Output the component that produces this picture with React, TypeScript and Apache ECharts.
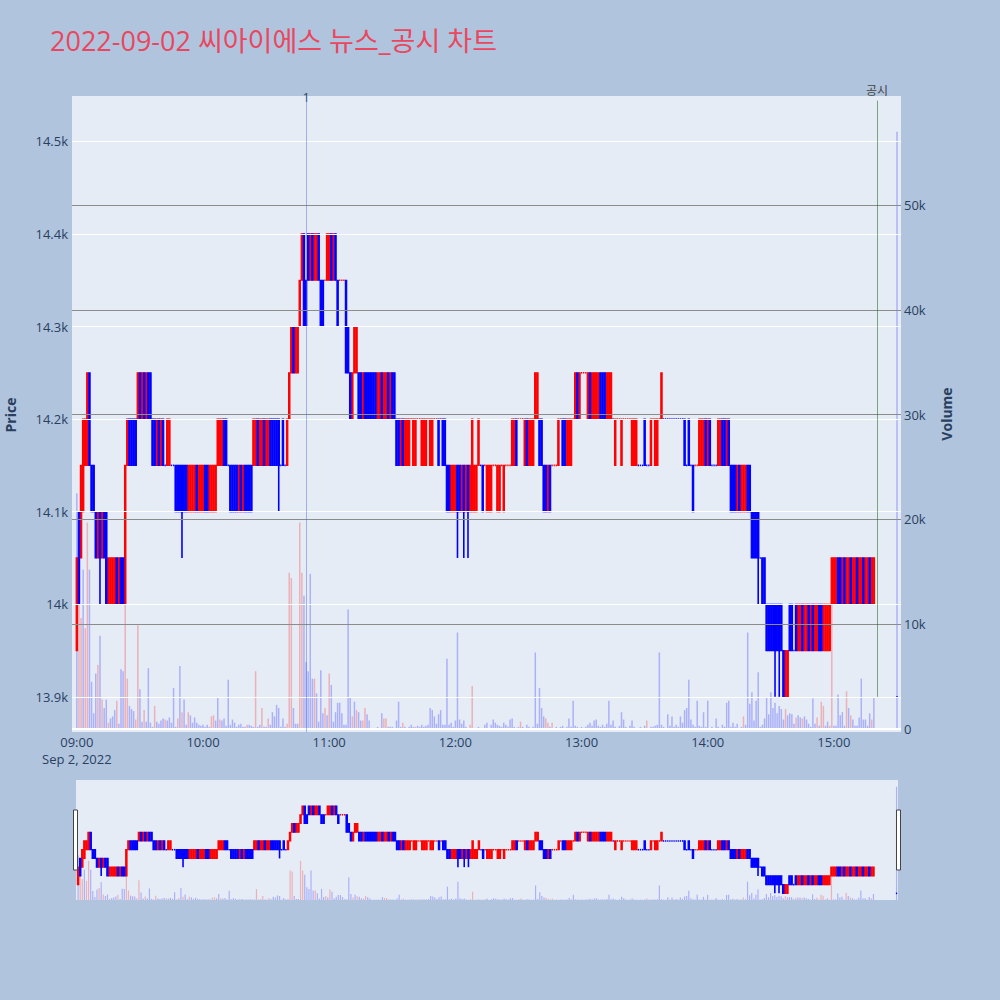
import React, { useEffect, useRef } from 'react';
import * as echarts from 'echarts';

const TITLE = '2022-09-02 씨아이에스 뉴스_공시 차트';
const DATE_LABEL = 'Sep 2, 2022';
const CONTINUOUS_START = '09:00';
const CONTINUOUS_END = '15:19';
const CLOSING_AUCTION = '15:30';
const TIME_TICKS = ['09:00', '10:00', '11:00', '12:00', '13:00', '14:00', '15:00'];
const PRICE_TICKS = [13900, 14000, 14100, 14200, 14300, 14400, 14500];
const VOLUME_TICKS_K = [0, 10, 20, 30, 40, 50];
const EVENT_LABELS = ['1', '공시'];
const EVENT_TIMES = ['10:49', '15:20:30'];
const DISCLOSURE_SPAN = [13900, 14544];

// [open, close, (low), (high)] per minute, 09:00 .. 15:19, then 15:30
const OHLC: number[][] = [
  [13950,14050],[14100,14000],[14050,14150],[14100,14200],[14150,14200],[14150,14250],[14250,14150],[14150,14100],[14150,14100],[14100,14050],
  [14050,14100],[14100,14050,14000,14100],[14050,14100],[14100,14050],[14100,14000],[14000,14050],[14000,14050],[14000,14050],[14000,14050],[14050,14000],
  [14000,14050],[14050,14000],[14050,14000],[14000,14150],[14150,14200],[14200,14150],[14200,14150],[14200,14150],[14200,14150],[14200,14250],
  [14250,14200],[14200,14250],[14250,14200],[14200,14250],[14250,14200],[14250,14200],[14200,14150],[14200,14150],[14150,14200],[14200,14150],
  [14150,14200],[14200,14150],[14150,14150],[14150,14200],[14150,14200],[14150,14150],[14150,14150],[14150,14100],[14150,14100],[14150,14100],
  [14150,14100,14050,14150],[14150,14100],[14150,14100],[14100,14150],[14100,14150],[14100,14150],[14100,14150],[14150,14100],[14100,14150],[14100,14150],
  [14100,14150],[14150,14100],[14150,14100],[14100,14150],[14100,14150],[14100,14150],[14100,14150],[14150,14200],[14150,14200],[14150,14200],
  [14200,14150],[14200,14150],[14150,14150],[14150,14100],[14150,14100],[14150,14100],[14150,14100],[14100,14150],[14150,14100],[14100,14150],
  [14150,14100],[14150,14100],[14150,14100],[14150,14100],[14150,14200],[14150,14200],[14200,14150],[14150,14200],[14150,14200],[14200,14150],
  [14150,14200],[14150,14200],[14200,14150],[14200,14150],[14200,14150],[14200,14150],[14200,14150,14100,14200],[14150,14150],[14200,14150],[14150,14150],
  [14150,14200],[14200,14250],[14250,14300],[14300,14250],[14250,14300],[14250,14300],[14300,14350],[14350,14400],[14400,14300],[14350,14300],
  [14400,14350],[14350,14400],[14400,14350],[14350,14400],[14350,14400],[14400,14350],[14350,14300],[14350,14300],[14350,14350],[14350,14400],
  [14350,14400],[14400,14350],[14350,14400],[14400,14350],[14350,14300],[14350,14350],[14350,14350],[14350,14350],[14350,14250],[14300,14250],
  [14250,14200],[14200,14250],[14250,14300],[14250,14300],[14250,14200],[14250,14200],[14200,14250],[14250,14200],[14250,14200],[14250,14200],
  [14250,14200],[14250,14200],[14250,14200],[14200,14250],[14200,14250],[14250,14200],[14200,14250],[14200,14250],[14250,14200],[14200,14250],
  [14250,14200],[14250,14200],[14200,14150],[14200,14150],[14150,14200],[14200,14150],[14150,14200],[14150,14200],[14150,14200],[14200,14200],
  [14150,14200],[14150,14200],[14200,14200],[14200,14200],[14150,14200],[14150,14200],[14150,14200],[14200,14200],[14150,14200],[14150,14200],
  [14200,14200],[14200,14200],[14200,14150],[14200,14200],[14200,14150],[14200,14150],[14150,14100],[14150,14100],[14100,14150],[14100,14150],
  [14100,14150],[14150,14100,14050,14150],[14150,14100],[14100,14150],[14150,14100,14050,14150],[14100,14150],[14150,14100,14050,14150],[14100,14150],[14100,14200],[14100,14150],
  [14100,14150],[14150,14200],[14150,14150],[14150,14100],[14150,14150],[14100,14150],[14100,14150],[14100,14150],[14150,14150],[14150,14150],
  [14100,14150],[14100,14150],[14150,14150],[14100,14150],[14150,14150],[14150,14150],[14150,14150],[14150,14200],[14150,14200],[14200,14150],
  [14200,14200],[14200,14200],[14200,14200],[14150,14200],[14200,14150],[14150,14200],[14150,14200],[14150,14200],[14200,14250],[14200,14250],
  [14200,14150],[14200,14150],[14150,14100],[14150,14100],[14100,14150],[14150,14100],[14150,14150],[14150,14150],[14150,14150],[14150,14200],
  [14200,14200],[14200,14150],[14200,14150],[14150,14200],[14150,14200],[14150,14200],[14200,14200],[14200,14250],[14250,14200],[14200,14250],
  [14250,14250],[14250,14250],[14250,14250],[14200,14250],[14250,14200],[14200,14250],[14200,14250],[14200,14250],[14200,14250],[14250,14200],
  [14250,14200],[14250,14200],[14200,14250],[14200,14250],[14200,14250],[14200,14200],[14150,14200],[14200,14200],[14200,14200],[14150,14200],
  [14200,14200],[14200,14200],[14200,14200],[14200,14200],[14150,14200],[14150,14200],[14150,14200],[14150,14150],[14150,14150],[14150,14150],
  [14200,14150],[14150,14150],[14150,14150],[14150,14200],[14200,14200],[14150,14200],[14150,14200],[14200,14200],[14200,14250],[14200,14200],
  [14200,14200],[14200,14200],[14200,14200],[14200,14200],[14200,14200],[14200,14200],[14200,14200],[14200,14200],[14200,14200],[14200,14150],
  [14150,14150],[14200,14150],[14150,14150],[14150,14100],[14150,14150],[14150,14150],[14150,14200],[14150,14200],[14150,14200],[14200,14150],
  [14150,14200],[14200,14150],[14150,14150],[14150,14150],[14150,14150],[14150,14200],[14150,14200],[14200,14150],[14200,14150],[14150,14200],
  [14200,14150],[14150,14100],[14150,14100],[14150,14100],[14100,14150],[14150,14100],[14100,14150],[14100,14150],[14100,14150],[14150,14100],
  [14150,14100],[14100,14050],[14100,14050],[14100,14050],[14100,14050,14000,14100],[14050,14050],[14050,14000],[14050,14000],[14000,13950],[14000,13950],
  [14000,13950],[14000,13950],[14000,13950,13900,14000],[14000,13950],[14000,13950,13900,14000],[14000,13950],[13950,13900],[13900,13950],[13900,13950],[14000,13950],
  [14000,13950],[13950,13950],[14000,13950],[13950,14000],[13950,14000],[14000,13950],[13950,14000],[13950,14000],[14000,13950],[13950,14000],
  [14000,13950],[13950,14000],[13950,14000],[14000,13950],[14000,13950],[13950,14000],[13950,14000],[13950,14000],[13950,14000],[14000,14050],
  [14000,14050],[14000,14050],[14050,14000],[14050,14000],[14000,14050],[14050,14000],[14000,14050],[14000,14050],[14050,14000],[14000,14050],
  [14000,14050],[14050,14000],[14000,14050],[14000,14050],[14050,14000],[14000,14050],[14000,14050],[14050,14000],[14000,14050],[14000,14050],
  [13900,13900],
];

// volume per minute, in thousands of shares
const VOLUME_K: number[] = [
  22.5,14.6,10.6,15.2,9.6,19.7,15.2,4.5,1.5,5.3,
  6.1,8.9,2.8,2,2.8,0.6,1,1.2,1.8,2.7,
  0.5,5.7,5.5,12.3,4.8,2.2,1.9,1.7,0.9,9.9,
  3.8,0.7,1.8,0.7,5.8,0.6,0.2,2.2,0.7,0.5,
  0.8,1,0.9,0.8,1.1,0.6,3.9,0.2,1,6,
  1.6,2.8,0.4,1.6,1.3,0.6,1.1,0.6,0.4,0.3,
  0.4,0.2,0.4,0.2,1.2,1.3,0.8,3,0.9,0.8,
  1,0.3,4.7,0.4,0.9,0.6,0.2,0.4,0.5,0.2,
  0.2,0.4,0.4,0.3,0.2,5.5,0.2,0.4,2,0.2,
  0.2,1,0.4,1.6,1.2,2.3,2,0.2,1,0.2,
  0.5,14.9,14.4,2,0.5,0.5,19.7,14.9,12.7,6.4,
  5.5,14.8,4.8,4.8,3.4,0.7,5.6,1.5,2,1.3,
  5.3,4.2,0.7,1.6,2.5,2.5,1.5,0.4,0.4,11.4,
  3,1.2,2.6,1.8,1.6,0.8,0.8,2,1.4,0.8,
  0.1,0.1,0.1,0.2,0.1,1.5,1,1,0.2,0.2,
  0.2,0.1,0.8,2.6,0.2,0.6,0.2,0.1,0.2,0.4,
  0.2,0.2,0.3,0.2,0.4,0.2,0.3,0.4,2,1.8,
  1.2,0.5,1.4,1.8,0.4,0.4,6.7,0.4,0.6,0.2,
  0.8,9.2,0.9,0.5,0.8,0.2,0.1,0.4,4.1,0.1,
  0.1,0.2,0.1,0.1,0.4,0.6,0.1,0.4,0.9,0.6,
  0.4,0.3,0.2,0.6,0.4,0.2,0.9,1,0.2,0.1,
  0.2,0.7,0.2,0.1,0.4,0.2,0.1,0.2,7.3,0.5,
  3.9,2,1.2,1,0.6,0.2,0.6,0.1,0.2,0.1,
  0.2,0.3,0.1,0.2,1,0.2,2.7,0.3,0.2,0.1,
  0.2,0.1,0.2,0.4,0.6,0.3,0.8,0.9,0.3,0.2,
  0.4,0.2,0.5,2.7,0.4,0.8,0.2,0.1,0.3,1.6,
  0.9,0.2,0.1,0.3,0.8,0.2,0.1,0.1,0.2,0.1,
  0.3,0.8,0.1,0.2,0.2,0.3,0.4,7.3,0.4,0.2,
  0.1,1.4,0.3,1.2,0.2,0.4,0.2,1.2,0.6,1.8,
  2,4.7,0.9,0.4,0.2,2.7,0.3,0.2,1.6,0.2,
  2.7,0.1,0.2,0.1,1,0.2,0.1,0.4,0.2,2.5,
  2.7,0.2,0.6,0.2,0.5,0.1,0.2,1.2,0.4,9.2,
  2.4,3.5,0.8,2.7,5.4,0.2,0.4,1,3,1.4,
  3.5,2,2.5,1.5,2.2,1.9,0.9,1.9,1.3,1.5,
  1.4,0.5,1.1,1.3,1.1,1,1.2,0.9,0.5,0.2,
  2.9,0.5,1.1,0.3,2.6,2.2,0.3,0.7,0.3,11.9,
  0.3,0.3,3.3,1.3,1.6,0.3,3.6,2,1.3,0.9,
  0.3,0.3,1.1,4.8,0.9,0.9,0.3,1.5,0.9,3,
  57,
];

// rows whose volume bar is drawn in the "up" colour
const VOLUME_UP_ROWS = [1,2,4,5,10,12,15,19,23,24,28,29,32,37,42,48,50,53,64,65,68,81,85,88,91,100,101,102,106,107,113,118,120,131,133,136,137,144,146,147,155,161,187,188,192,193,211,223,224,226,271,317,337,342,345,352,354,355,358,359,366,368,378];

const PAPER = '#b0c4de';
const PLOT = '#e5ecf6';
const UP = '#ff0000';
const DOWN = '#0000ff';
const VOL_UP_C = 'rgba(255,0,0,0.25)';
const VOL_DOWN_C = 'rgba(0,0,255,0.25)';
const FONT_C = '#2a3f5f';
const FONT = '"Open Sans", verdana, arial, sans-serif';
const PRICE_RANGE = [13862, 14549];
const VOL_RANGE = [-0.29, 60.4];
const X_RANGE = [-2.3, 391.9];
const NAV_X_RANGE = [-1, 390.7];

const toMinutes = (t: string) => {
  const [h, m, s = 0] = t.split(':').map(Number);
  return (h - 9) * 60 + m + s / 60;
};
const fmtTime = (min: number) => {
  const h = 9 + Math.floor(min / 60);
  const m = Math.round(min % 60);
  return String(h).padStart(2, '0') + ':' + String(m).padStart(2, '0');
};

const TIMES: string[] = (() => {
  const out: string[] = [];
  for (let m = toMinutes(CONTINUOUS_START); m <= toMinutes(CONTINUOUS_END); m++) out.push(fmtTime(m));
  out.push(CLOSING_AUCTION);
  return out;
})();

function candleSeries(data: number[][], color: string, xi: number, yi: number, bodyW: number) {
  return {
    type: 'custom',
    xAxisIndex: xi,
    yAxisIndex: yi,
    data,
    z: 3,
    silent: true,
    clip: true,
    encode: { x: 0, y: [1, 2, 3, 4] },
    renderItem: (params: any, api: any) => {
      const x = api.value(0);
      const o = api.value(1);
      const c = api.value(2);
      const l = api.value(3);
      const h = api.value(4);
      const pO = api.coord([x, o]);
      const pC = api.coord([x, c]);
      const pL = api.coord([x, l]);
      const pH = api.coord([x, h]);
      const children: any[] = [];
      if (l < Math.min(o, c) || h > Math.max(o, c)) {
        children.push({
          type: 'line',
          shape: { x1: pL[0], y1: pL[1], x2: pH[0], y2: pH[1] },
          style: { stroke: color, lineWidth: 1.6 },
        });
      }
      if (o !== c) {
        const top = Math.min(pO[1], pC[1]);
        children.push({
          type: 'rect',
          shape: { x: pO[0] - bodyW / 2, y: top, width: bodyW, height: Math.abs(pO[1] - pC[1]) },
          style: { fill: color, stroke: color, lineWidth: 1.2 },
        });
      } else {
        children.push({
          type: 'line',
          shape: { x1: pO[0] - 0.65, y1: pO[1], x2: pO[0] + 0.65, y2: pO[1] },
          style: { stroke: color, lineWidth: 1.6 },
        });
      }
      return { type: 'group', children };
    },
  };
}

export default function App() {
  const ref = useRef<HTMLDivElement>(null);
  useEffect(() => {
    if (!ref.current) return;
    const chart = echarts.init(ref.current, undefined, { renderer: 'svg' });
    const X = TIMES.map(toMinutes);
    let prevClose: number | null = null;
    let prevUp = false;
    const upRows: number[][] = [];
    const downRows: number[][] = [];
    OHLC.forEach((row, i) => {
      const [o, c] = row;
      const lo = row[2] ?? Math.min(o, c);
      const hi = row[3] ?? Math.max(o, c);
      let up: boolean;
      if (c > o) up = true;
      else if (c < o) up = false;
      else if (prevClose === null) up = false;
      else if (c > prevClose) up = true;
      else if (c < prevClose) up = false;
      else up = prevUp;
      prevClose = c;
      prevUp = up;
      (up ? upRows : downRows).push([X[i], o, c, lo, hi]);
    });
    const upSet = new Set(VOLUME_UP_ROWS);
    const vols = VOLUME_K.map((v, i) => ({
      value: [X[i], v],
      itemStyle: { color: upSet.has(i) ? VOL_UP_C : VOL_DOWN_C },
    }));
    const evX = EVENT_TIMES.map(toMinutes);

    const option: any = {
      animation: false,
      backgroundColor: PAPER,
      textStyle: { fontFamily: FONT },
      grid: [
        { left: 72, top: 96, width: 829, height: 636, show: true, backgroundColor: PLOT, borderWidth: 0 },
        { left: 76, top: 780, width: 822, height: 120, show: true, backgroundColor: PLOT, borderWidth: 0 },
      ],
      xAxis: [
        {
          type: 'value', gridIndex: 0, min: X_RANGE[0], max: X_RANGE[1],
          axisLine: { show: false }, axisTick: { show: false }, splitLine: { show: false },
          axisLabel: {
            customValues: TIME_TICKS.map(toMinutes),
            formatter: (v: number) => fmtTime(v),
            color: FONT_C, fontSize: 13, margin: 3, fontFamily: FONT,
          },
        },
        { type: 'value', gridIndex: 1, min: NAV_X_RANGE[0], max: NAV_X_RANGE[1], show: false, splitLine: { show: false } },
      ],
      yAxis: [
        {
          type: 'value', gridIndex: 0, position: 'left', min: PRICE_RANGE[0], max: PRICE_RANGE[1],
          axisLine: { show: false }, axisTick: { show: false }, splitLine: { show: false },
          axisLabel: {
            customValues: PRICE_TICKS,
            formatter: (v: number) => v / 1000 + 'k',
            color: FONT_C, fontSize: 13, margin: 4, fontFamily: FONT,
          },
        },
        {
          type: 'value', gridIndex: 0, position: 'right', min: VOL_RANGE[0], max: VOL_RANGE[1],
          axisLine: { show: false }, axisTick: { show: false }, splitLine: { show: false },
          axisLabel: {
            customValues: VOLUME_TICKS_K,
            formatter: (v: number) => (v === 0 ? '0' : v + 'k'),
            color: FONT_C, fontSize: 13, margin: 3, fontFamily: FONT,
          },
        },
        { type: 'value', gridIndex: 1, min: PRICE_RANGE[0], max: PRICE_RANGE[1], show: false, splitLine: { show: false } },
        { type: 'value', gridIndex: 1, min: 0, max: VOL_RANGE[1], show: false, splitLine: { show: false } },
      ],
      series: [
        {
          type: 'line', xAxisIndex: 0, yAxisIndex: 0, data: [], z: 1, silent: true,
          markLine: {
            silent: true, symbol: ['none', 'none'], animation: false, label: { show: false },
            lineStyle: { color: '#ffffff', width: 1, type: 'solid' },
            data: PRICE_TICKS.map((v) => ({ yAxis: v })),
          },
        },
        {
          type: 'line', xAxisIndex: 0, yAxisIndex: 1, data: [], z: 1, silent: true,
          markLine: {
            silent: true, symbol: ['none', 'none'], animation: false, label: { show: false },
            lineStyle: { color: '#8c8c8c', width: 1, type: 'solid' },
            data: [
              ...VOLUME_TICKS_K.filter((v) => v > 0).map((v) => ({ yAxis: v })),
              { yAxis: 0, lineStyle: { color: '#ffffff', width: 2, type: 'solid' } },
            ],
          },
        },
        { type: 'bar', xAxisIndex: 0, yAxisIndex: 1, data: vols, barWidth: 1.5, z: 2, silent: true },
        candleSeries(upRows, UP, 0, 0, 1.3),
        candleSeries(downRows, DOWN, 0, 0, 1.3),
        {
          type: 'line', xAxisIndex: 0, yAxisIndex: 0, data: [], z: 6, silent: true,
          markLine: {
            silent: true, symbol: ['none', 'none'], animation: false, label: { show: false },
            data: [
              { xAxis: evX[0], lineStyle: { color: 'rgba(65,105,225,0.45)', width: 1, type: 'solid' } },
              [
                { coord: [evX[1], DISCLOSURE_SPAN[0]], lineStyle: { color: 'rgba(0,100,0,0.5)', width: 1, type: 'solid' } },
                { coord: [evX[1], DISCLOSURE_SPAN[1]] },
              ],
            ],
          },
        },
        { type: 'bar', xAxisIndex: 1, yAxisIndex: 3, data: vols, barWidth: 1.2, z: 2, silent: true },
        candleSeries(upRows, UP, 1, 2, 1.3),
        candleSeries(downRows, DOWN, 1, 2, 1.3),
      ],
    };
    chart.setOption(option);

    const px = (m: number) => chart.convertToPixel({ xAxisIndex: 0 }, m) as number;
    const py = (p: number) => chart.convertToPixel({ yAxisIndex: 0 }, p) as number;
    chart.setOption({
      graphic: [
        {
          type: 'text', x: 50, y: 40,
          style: { text: TITLE, fill: '#e9475f', fontSize: 27, fontFamily: '"Open Sans", "Noto Sans CJK KR", sans-serif', align: 'left', verticalAlign: 'middle' },
        },
        {
          type: 'text', x: 10, y: 415, rotation: Math.PI / 2,
          style: { text: 'Price', fill: FONT_C, fontSize: 14, fontWeight: 'bold', fontFamily: FONT, align: 'center', verticalAlign: 'middle' },
        },
        {
          type: 'text', x: 946, y: 414, rotation: Math.PI / 2,
          style: { text: 'Volume', fill: FONT_C, fontSize: 14, fontWeight: 'bold', fontFamily: FONT, align: 'center', verticalAlign: 'middle' },
        },
        {
          type: 'text', x: px(toMinutes(TIME_TICKS[0])), y: 759,
          style: { text: DATE_LABEL, fill: FONT_C, fontSize: 13, fontFamily: FONT, align: 'center', verticalAlign: 'middle' },
        },
        {
          type: 'text', x: px(evX[0]), y: 97,
          style: { text: EVENT_LABELS[0], fill: FONT_C, fontSize: 12, fontFamily: FONT, align: 'center', verticalAlign: 'middle' },
        },
        {
          type: 'text', x: px(evX[1]), y: py(DISCLOSURE_SPAN[1]) - 11,
          style: { text: EVENT_LABELS[1], fill: '#444', fontSize: 12, fontFamily: '"Noto Sans CJK KR", sans-serif', align: 'center', verticalAlign: 'middle' },
        },
        {
          type: 'rect', shape: { x: 73.5, y: 810, width: 4, height: 60 },
          style: { fill: '#ffffff', stroke: '#444', lineWidth: 1 }, z: 10,
        },
        {
          type: 'rect', shape: { x: 896.5, y: 810, width: 4, height: 60 },
          style: { fill: '#ffffff', stroke: '#444', lineWidth: 1 }, z: 10,
        },
      ],
    });
    return () => chart.dispose();
  }, []);
  return <div ref={ref} style={{ position: 'fixed', left: 0, top: 0, width: 1000, height: 1000 }} />;
}
